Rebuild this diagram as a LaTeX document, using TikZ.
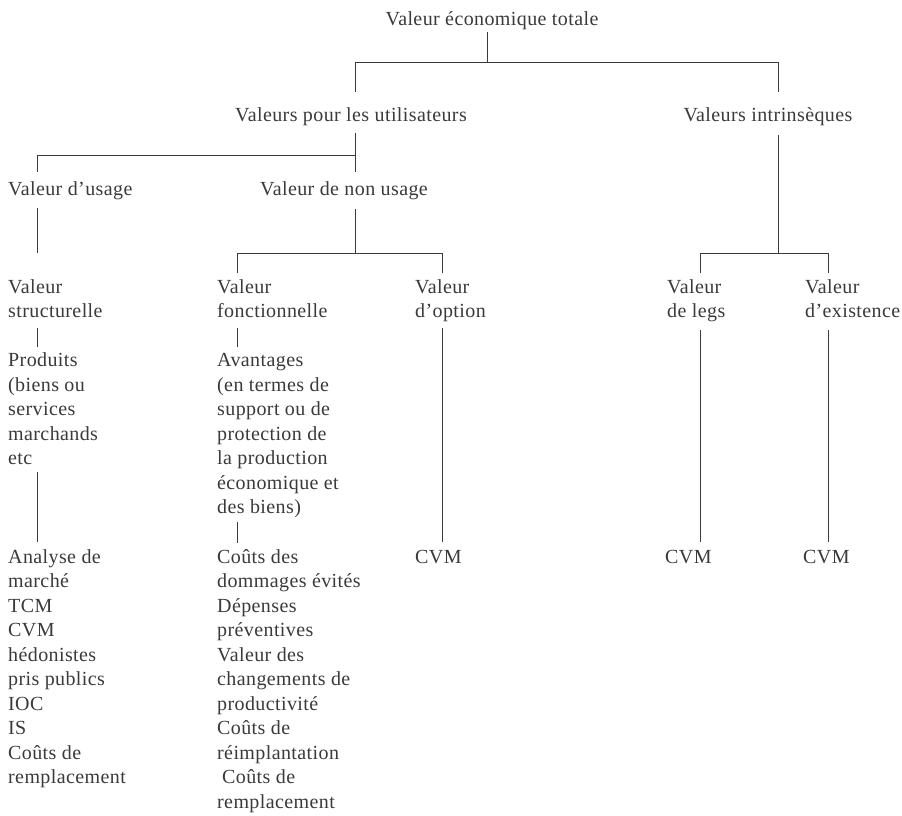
\documentclass[tikz,border=0pt]{standalone}
\usepackage{fontspec}
\setmainfont{Liberation Serif}[LetterSpace=2]
\usepackage{tikz}
\definecolor{ink}{HTML}{3A3A3A}

\begin{document}
\begin{tikzpicture}[x=1pt,y=-1pt,
	lbl/.style={inner sep=0pt, align=left, text=ink, font=\fontsize{20}{24.5}\selectfont},
	br/.style={draw=ink, line width=0.8pt}]
\useasboundingbox (0,0) rectangle (902,815);
\node[lbl, anchor=base] (vet) at (492,25) {Valeur économique totale};
\node[lbl, anchor=base] (vpu) at (351,121) {Valeurs pour les utilisateurs};
\node[lbl, anchor=base] (vi) at (768,121) {Valeurs intrinsèques};
\node[lbl, anchor=base west] (vu) at (8,195) {Valeur d’usage};
\node[lbl, anchor=base west] (vnu) at (260,195) {Valeur de non usage};
\node[lbl, anchor=base west] (vs) at (8,317.5) {Valeur\\structurelle};
\node[lbl, anchor=base west] (prod) at (8,464.5) {Produits\\(biens ou\\services\\marchands\\etc};
\node[lbl, anchor=base west] (anm) at (8,783.5) {Analyse de\\marché\\TCM\\CVM\\hédonistes\\pris publics\\IOC\\IS\\Coûts de\\remplacement};
\node[lbl, anchor=base west] (vf) at (217,317.5) {Valeur\\fonctionnelle};
\node[lbl, anchor=base west] (avt) at (217,513.5) {Avantages\\(en termes de\\support ou de\\protection de\\la production\\économique et\\des biens)};
\node[lbl, anchor=base west] (cde) at (217,808) {Coûts des\\dommages évités\\Dépenses\\préventives\\Valeur des\\changements de\\productivité\\Coûts de\\réimplantation\\\hspace*{5pt}Coûts de\\remplacement};
\node[lbl, anchor=base west] (vo) at (415,317.5) {Valeur\\d’option};
\node[lbl, anchor=base west] (cvmo) at (415,563) {CVM};
\node[lbl, anchor=base west] (vl) at (667,317.5) {Valeur\\de legs};
\node[lbl, anchor=base west] (cvml) at (665,563) {CVM};
\node[lbl, anchor=base west] (ve) at (805,317.5) {Valeur\\d’existence};
\node[lbl, anchor=base west] (cvme) at (803,563) {CVM};

\coordinate (b1) at (487,62);
\coordinate (b1l) at (355,62);
\coordinate (b1r) at (778,62);
\coordinate (b2) at (355,155);
\coordinate (b2l) at (37,155);
\coordinate (b3) at (355,253);
\coordinate (b3l) at (237,253);
\coordinate (b3r) at (442,253);
\coordinate (b4) at (778,253);
\coordinate (b4l) at (700,253);
\coordinate (b4r) at (828,253);

\draw[br, shorten <=2.7pt] (vet.south -| b1) -- (b1);
\draw[br] (b1l) -- (b1r);
\draw[br, shorten >=15.3pt] (b1l) -- (vpu.north -| b1l);
\draw[br, shorten >=15.3pt] (b1r) -- (vi.north -| b1r);
\draw[br, shorten <=7.7pt] (vpu.south -| b2) -- (b2);
\draw[br] (b2l) -- (b2);
\draw[br, shorten >=9.3pt] (b2l) -- (vu.north -| b2l);
\draw[br, shorten >=9.3pt] (b2) -- (vnu.north -| b2);
\draw[br, shorten <=8pt, shorten >=26pt] (vu.south -| b2l) -- (vs.north -| b2l);
\draw[br, shorten <=9pt] (vnu.south -| b3) -- (b3);
\draw[br] (b3l) -- (b3r);
\draw[br, shorten >=6.3pt] (b3l) -- (vf.north -| b3l);
\draw[br, shorten >=6.3pt] (b3r) -- (vo.north -| b3r);
\draw[br, shorten <=9.7pt] (vi.south -| b4) -- (b4);
\draw[br] (b4l) -- (b4r);
\draw[br, shorten >=6.3pt] (b4l) -- (vl.north -| b4l);
\draw[br, shorten >=6.3pt] (b4r) -- (ve.north -| b4r);
\draw[br, shorten <=10.5pt, shorten >=5.8pt] (vs.south -| b2l) -- (prod.north -| b2l);
\draw[br, shorten <=7.5pt, shorten >=7.3pt] (prod.south -| b2l) -- (anm.north -| b2l);
\draw[br, shorten <=10.5pt, shorten >=6.3pt] (vf.south -| b3l) -- (avt.north -| b3l);
\draw[br, shorten <=4.2pt, shorten >=6.3pt] (avt.south -| b3l) -- (cde.north -| b3l);
\draw[br, shorten <=6.2pt, shorten >=7.8pt] (vo.south -| b3r) -- (cvmo.north -| b3r);
\draw[br, shorten <=8.2pt, shorten >=7.8pt] (vl.south -| b4l) -- (cvml.north -| b4l);
\draw[br, shorten <=12.5pt, shorten >=7.8pt] (ve.south -| b4r) -- (cvme.north -| b4r);
\end{tikzpicture}
\end{document}
